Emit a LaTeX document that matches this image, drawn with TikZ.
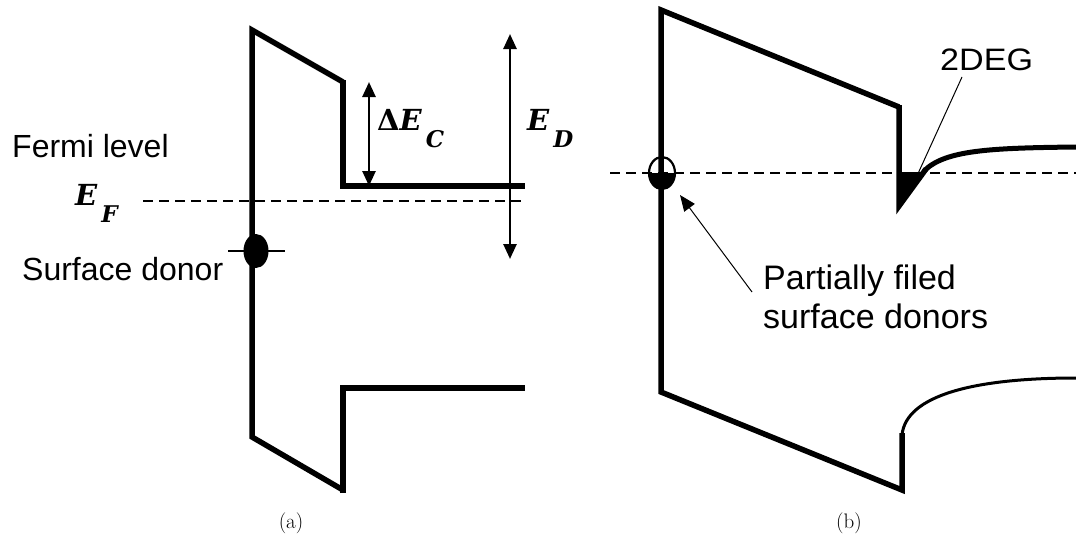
\documentclass[tikz,border=0pt]{standalone}
\usepackage{fontspec}
\newfontfamily\arialf{Liberation Sans}
\newfontfamily\dvs{DejaVu Serif}
\usetikzlibrary{arrows.meta,shapes.geometric}
\newcommand\bandsym[2]{{\dvs\bfseries\itshape #1\hspace{4pt}\raisebox{-17pt}{\fontsize{23}{23}\selectfont #2}}}
\tikzset{
  band/.style={line width=5.5pt, line join=miter, line cap=butt},
  thinband/.style={line width=3pt},
  fermi/.style={line width=2pt, dash pattern=on 10pt off 6pt},
  dbl/.style={line width=2.6pt, {Triangle[length=15pt,width=13pt]}-{Triangle[length=15pt,width=13pt]}},
  ptr/.style={line width=1pt, -{Triangle[length=16pt,width=13pt]}},
  lbl/.style={font=\arialf\fontsize{32}{36}\selectfont, inner sep=0pt},
  biglbl/.style={font=\arialf\fontsize{34}{38}\selectfont, inner sep=0pt},
  mathlbl/.style={font=\fontsize{29}{34}\selectfont, inner sep=0pt},
  captext/.style={font=\fontsize{21}{24}\selectfont, inner sep=0pt}
}
\begin{document}
\begin{tikzpicture}[x=1pt,y=-1pt]
\useasboundingbox (0,0) rectangle (1076,538);
% ---------- panel (a) ----------
\draw[fermi] (143,201) -- (525,201);
\draw[band] (343,82) -- (252,30) -- (252,437) -- (343,490);
\draw[band] (343,80) -- (343,186) -- (525,186);
\draw[band] (343,493) -- (343,388) -- (525,388);
\draw[line width=2.8pt] (228,251) -- (285,251);
\node[fill=black, ellipse, minimum width=25pt, minimum height=34pt, inner sep=0pt] (sd) at (256,251) {};
\coordinate (dcTop) at (369,82);
\coordinate (dcBot) at (369,186);
\draw[dbl] (dcTop) -- (dcBot);
\coordinate (edTop) at (510,34);
\coordinate (edBot) at (510,259);
\draw[dbl] (edTop) -- (edBot);
\node[mathlbl, anchor=base west] (dEC) at (377,130) {{\dvs\bfseries Δ}\bandsym{E}{C}};
\node[mathlbl, anchor=base west] (ED) at (527,130) {\bandsym{E}{D}};
\node[lbl, anchor=base west] (fl) at (12,157) {Fermi level};
\node[mathlbl, anchor=base west] (EF) at (75,205) {\bandsym{E}{F}};
\node[lbl, anchor=base west] (sdl) at (22,280) {Surface donor};
\node[captext] (ca) at (291,523) {(a)};
% ---------- panel (b) ----------
\draw[fermi] (610,173) -- (1076,173);
\draw[band] (899,107) -- (661,10) -- (661,392) -- (902,490) -- (902,433);
\draw[band] (899,105) -- (899,206) -- (926,169);
\fill (897,172) -- (926,172) -- (898,205) -- cycle;
\draw[line width=5pt] (924,171) .. controls (945,150) and (990,148) .. (1076,147);
\draw[thinband] (902,435) .. controls (906,395) and (975,378) .. (1076,378);
\begin{scope}
  \clip (640,173) rectangle (685,200);
  \fill (662,173) ellipse (13pt and 16pt);
\end{scope}
\draw[line width=2.2pt] (662,173) ellipse (13pt and 16pt);
\coordinate (don) at (680,195);
\node[biglbl, anchor=base west] (pfl) at (763,289) {Partially filed};
\node[biglbl, anchor=base west] (pfl2) at (763,328) {surface donors};
\coordinate (pfTail) at (752,292);
\draw[ptr] (pfTail) -- (don);
\node[lbl, font=\arialf\fontsize{31}{34}\selectfont, anchor=base west] (deg) at (940,70) {\scalebox{1.1}[1]{2DEG}};
\coordinate (degTip) at (916,178);
\draw[line width=1pt] (962,77) -- (degTip);
\node[captext] (cb) at (849,523) {(b)};
\end{tikzpicture}
\end{document}
